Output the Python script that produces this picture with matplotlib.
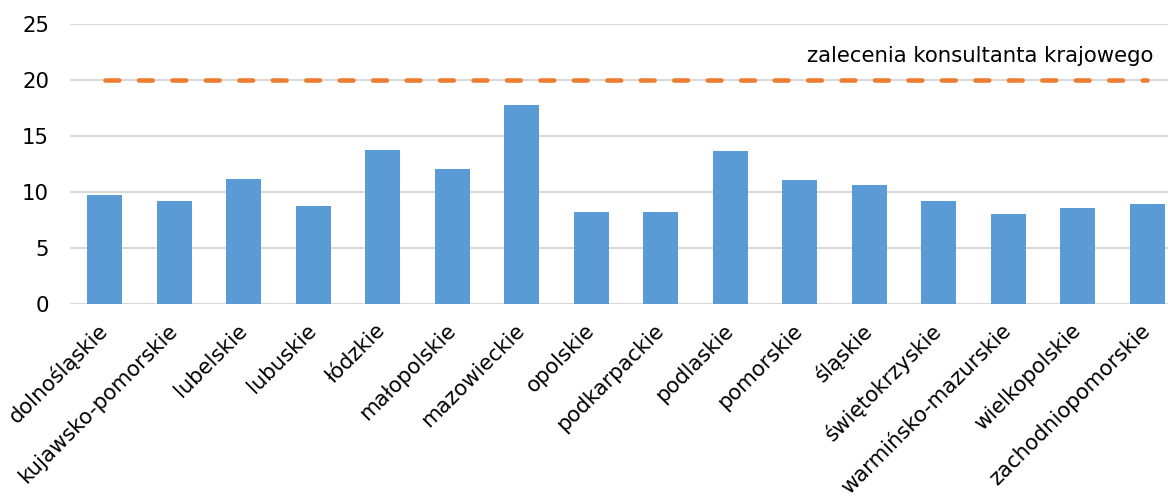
import matplotlib
matplotlib.use("Agg")
import matplotlib.pyplot as plt
import numpy as np

categories = ["dolnośląskie", "kujawsko-pomorskie", "lubelskie", "lubuskie",
              "łódzkie", "małopolskie", "mazowieckie", "opolskie",
              "podkarpackie", "podlaskie", "pomorskie", "śląskie",
              "świętokrzyskie", "warmińsko-mazurskie", "wielkopolskie",
              "zachodniopomorskie"]
values = [9.70, 9.14, 11.13, 8.75, 13.72, 12.02, 17.77, 8.21,
          8.15, 13.63, 11.07, 10.57, 9.14, 7.98, 8.54, 8.87]
recommendation = [20] * len(categories)
recommendation_label = "zalecenia konsultanta krajowego"
yticks = [0, 5, 10, 15, 20, 25]

plt.rcParams['font.family'] = ['DejaVu Sans']

W, H = 1168, 497
fig = plt.figure(figsize=(W / 100, H / 100), dpi=100)
ax_left, ax_right = 70, 1182
ax_top, ax_bottom = 23.7, 303.7
ax = fig.add_axes([ax_left / W, 1 - ax_bottom / H,
                   (ax_right - ax_left) / W, (ax_bottom - ax_top) / H])

x = np.arange(len(categories))
ax.bar(x, values, width=0.5, color="#5B9BD5", zorder=2)
ax.plot(x, recommendation, color="#ED7D31", lw=3.3,
        ls=(0, (3.0, 4.3)), dash_capstyle="round", zorder=3)

ax.set_xlim(-0.5, len(categories) - 0.5)
ax.set_ylim(0, 25)
ax.set_yticks(yticks)
ax.yaxis.grid(True, color="#D9D9D9", lw=1.5, zorder=0)
ax.set_axisbelow(True)
for s in ax.spines.values():
    s.set_visible(False)
ax.axhline(0, color="#D9D9D9", lw=1.5, zorder=1)
ax.tick_params(axis="y", length=0, pad=15, labelsize=15.3, labelcolor="black")
ax.tick_params(axis="x", length=0, pad=17, labelsize=15.3, labelcolor="black")
ax.set_xticks(x)
ax.set_xticklabels(categories, rotation=45, ha="right", va="center",
                   rotation_mode="anchor")

ax.annotate(recommendation_label, xy=(1153, H - 62), xycoords="figure pixels",
            ha="right", va="baseline", fontsize=15.3, color="black")

fig.savefig("out.png", dpi=100)
